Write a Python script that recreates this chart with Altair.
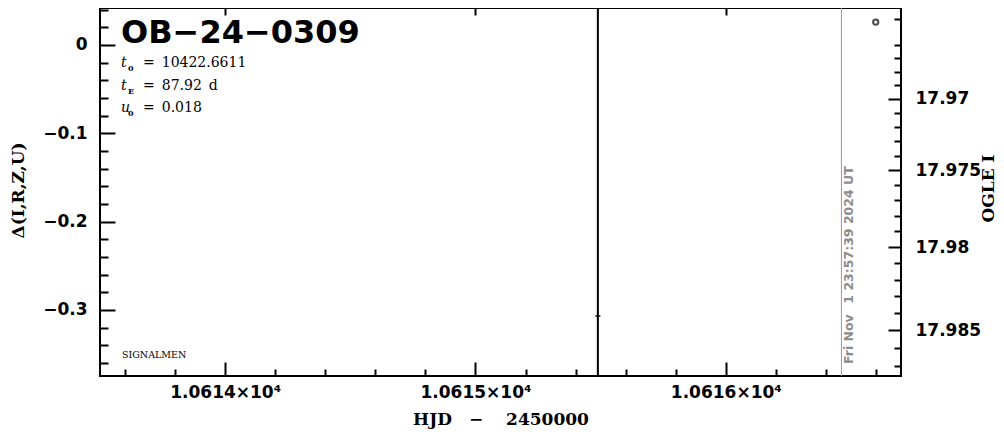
import altair as alt
import numpy as np
import pandas as pd

# ---------------- data ----------------
hjd_obs = [10616.599]
delta_obs = [0.026]

hjd_wide = [10615.489]
delta_wide = [-0.307]
err_wide = [0.6]

now_hjd = [10616.462]
now_text = ["Fri Nov\u2002 1 23:57:39 2024 UT"]

event_name = "OB−24−0309"
param_symbols = ["t", "t", "u"]
param_subs = ["0", "E", "0"]
param_values = ["=\u200210422.6611", "=\u200287.92\u2002d", "=\u20020.018"]
footer = "SIGNALMEN"
x_title = "HJD\u2003−\u2003 2450000"

x_major = [10614, 10615, 10616]
y_major = [0.0, -0.1, -0.2, -0.3]
mag_major = [17.97, 17.975, 17.98, 17.985]

x_domain = [10613.5, 10616.7]
y_domain = [-0.3749, 0.0419]

# OGLE I  <->  Delta mapping (baseline magnitude, source flux fraction)
I_BASE = 17.96599
F_SRC = 0.0674


def mag_to_delta(m):
    return float(2.5 * np.log10(1 + (10 ** (-0.4 * (m - I_BASE)) - 1) / F_SRC))


def inside(v):
    return y_domain[0] <= v <= y_domain[1]


x_minor = [float(v) for v in np.round(np.arange(10613.6, 10616.65, 0.2), 1)
           if abs(v - round(v)) > 1e-6]
y_minor = [float(v) for v in np.round(np.arange(-0.36, 0.045, 0.02), 2)
           if abs(v * 10 - round(v * 10)) > 1e-6]
mag_minor = [float(m) for m in np.round(np.arange(17.960, 17.990, 0.001), 3)
             if abs(m * 200 - round(m * 200)) > 1e-6]
right_major_pos = [mag_to_delta(m) for m in mag_major if inside(mag_to_delta(m))]
right_minor_pos = [mag_to_delta(m) for m in mag_minor if inside(mag_to_delta(m))]

W, H = 801, 368
xs = alt.Scale(domain=x_domain, nice=False, zero=False)
ys = alt.Scale(domain=y_domain, nice=False, zero=False)

LABEL = dict(labelFont="DejaVu Sans", labelFontSize=17, labelFontWeight="bold",
             labelColor="black", labelFlush=False, labelOverlap=False)
TITLE = dict(titleFont="DejaVu Serif", titleFontSize=17, titleFontWeight="bold",
             titleColor="black", titleAlign="center", titleBaseline="middle")


def axis(orient, values, length, **kw):
    opts = dict(orient=orient, values=values, tickSize=length, offset=-length,
                domain=False, grid=False, ticks=True, tickColor="black",
                tickWidth=2, labels=False, title=None)
    opts.update(kw)
    return alt.Axis(**opts)


ax_bottom_major = axis("bottom", x_major, 14, labels=True, labelPadding=8,
                       labelExpr="format(datum.value/10000, '.4f') + '×10⁴'",
                       title=x_title, titleX=W / 2, titleY=57,
                       **LABEL, **TITLE)
ax_bottom_minor = axis("bottom", x_minor, 7)
ax_top_major = axis("top", x_major, 7)
ax_left_major = axis("left", y_major, 15, labels=True, labelPadding=13,
                     format=".1~f", title="Δ(I,R,Z,U)", titleAngle=270,
                     titleX=-97, titleY=182, **LABEL, **TITLE)
ax_left_minor = axis("left", y_minor, 8)
ax_right_major = axis("right", right_major_pos, 13, labels=True, labelPadding=14,
                      labelExpr=(f"format({I_BASE} - 2.5*log(1 + {F_SRC}*"
                                 f"(pow(10, datum.value/2.5) - 1))/LN10, '.3~f')"),
                      title="OGLE I", titleAngle=270, titleX=100, titleY=180,
                      **LABEL, **TITLE)
ax_right_minor = axis("right", right_minor_pos, 7)

df_wide = pd.DataFrame({"hjd": hjd_wide, "delta": delta_wide, "err": err_wide})
df_obs = pd.DataFrame({"hjd": hjd_obs, "delta": delta_obs})
df_now = pd.DataFrame({"hjd": now_hjd, "label": now_text})

errbars = alt.Chart(df_wide).transform_calculate(
    lo="datum.delta - datum.err", hi="datum.delta + datum.err"
).mark_rule(color="black", strokeWidth=2, clip=True).encode(
    x=alt.X("hjd:Q", scale=xs, axis=ax_bottom_major),
    y=alt.Y("lo:Q", scale=ys, axis=ax_left_major),
    y2="hi:Q",
)

wide_pts = alt.Chart(df_wide).mark_tick(
    orient="horizontal", size=5, thickness=2, color="black", clip=True
).encode(
    x=alt.X("hjd:Q", scale=xs, axis=ax_bottom_minor),
    y=alt.Y("delta:Q", scale=ys, axis=ax_left_minor),
)

obs_pts = alt.Chart(df_obs).mark_point(
    shape="circle", filled=False, size=28, strokeWidth=2, color="black", clip=True
).encode(
    x=alt.X("hjd:Q", scale=xs, axis=ax_top_major),
    y=alt.Y("delta:Q", scale=ys, axis=ax_right_major),
)

now_rule = alt.Chart(df_now).mark_rule(color="#999999", strokeWidth=1).encode(
    x=alt.X("hjd:Q", scale=xs, axis=None),
)

now_label = alt.Chart(df_now).mark_text(
    angle=270, align="left", baseline="top", font="DejaVu Sans",
    fontWeight="bold", fontSize=12.5, color="#8c8c8c", dx=12, dy=2
).encode(
    x=alt.X("hjd:Q", scale=xs, axis=None),
    y=alt.Y(datum=y_domain[0], type="quantitative", scale=ys, axis=ax_right_minor),
    text="label:N",
)

one = pd.DataFrame({"k": [0]})
texts = [
    alt.Chart(one).mark_text(text=event_name, font="DejaVu Sans", fontWeight="bold",
                             fontSize=32, align="left", baseline="alphabetic",
                             color="black").encode(x=alt.value(21), y=alt.value(35)),
    alt.Chart(one).mark_text(text=footer, font="DejaVu Serif", fontSize=9.5,
                             align="left", baseline="middle",
                             color="black").encode(x=alt.value(22), y=alt.value(347)),
]
for i, (sym, sub, val) in enumerate(zip(param_symbols, param_subs, param_values)):
    base_y = 59 + 22.5 * i
    texts.append(alt.Chart(one).mark_text(
        text=sym, font="DejaVu Serif", fontStyle="italic", fontSize=14,
        align="left", baseline="alphabetic", color="black"
    ).encode(x=alt.value(21), y=alt.value(base_y)))
    texts.append(alt.Chart(one).mark_text(
        text=sub, font="DejaVu Serif", fontSize=8, fontWeight="bold",
        align="left", baseline="alphabetic", color="black"
    ).encode(x=alt.value(28), y=alt.value(base_y + 4)))
    texts.append(alt.Chart(one).mark_text(
        text=val, font="DejaVu Serif", fontSize=14,
        align="left", baseline="alphabetic", color="black"
    ).encode(x=alt.value(43), y=alt.value(base_y)))

chart = alt.layer(
    now_rule, errbars, wide_pts, obs_pts, now_label, *texts
).resolve_axis(
    x="independent", y="independent"
).properties(
    width=W, height=H,
    autosize=alt.AutoSizeParams(type="none"),
    padding={"left": 92, "top": 0, "right": 95, "bottom": 56},
).configure(
    background="white",
    view=alt.ViewConfig(stroke="black", strokeWidth=2),
)

chart.save("out.html", embed_options={"renderer": "svg", "actions": False})
